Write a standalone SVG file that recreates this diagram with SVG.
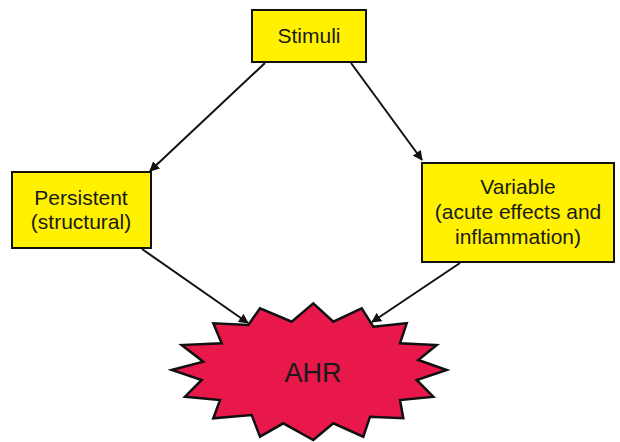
<svg xmlns="http://www.w3.org/2000/svg" width="620" height="442" viewBox="0 0 620 442">
<style>
.box{fill:#FFF100;stroke:#111;stroke-width:2}
.lbl{font-family:"Liberation Sans",Arial,sans-serif;font-size:21px;fill:#1a1a1a;text-anchor:middle}
.conn{stroke:#111;stroke-width:2;fill:none;marker-end:url(#ah)}
</style>
<defs>
<marker id="ah" viewBox="0 0 10 10" refX="9" refY="5" markerWidth="5" markerHeight="5" orient="auto" markerUnits="strokeWidth">
<path d="M0,0 L10,5 L0,10 z" fill="#111"/>
</marker>
</defs>
<rect width="620" height="442" fill="#fff"/>
<g id="connectors">
<line class="conn" x1="265" y1="63" x2="150" y2="171"/>
<line class="conn" x1="351" y1="63" x2="422" y2="160"/>
<line class="conn" x1="142" y1="249" x2="248" y2="323"/>
<line class="conn" x1="460" y1="263" x2="372" y2="322"/>
</g>
<g id="stimuli">
<rect class="box" x="252" y="10" width="114" height="52"/>
<text class="lbl" x="309" y="43">Stimuli</text>
</g>
<g id="persistent">
<rect class="box" x="12" y="172" width="139" height="76"/>
<text class="lbl" x="81" y="205">Persistent</text>
<text class="lbl" x="81" y="229">(structural)</text>
</g>
<g id="variable">
<rect class="box" x="422" y="163" width="192" height="99"/>
<text class="lbl" x="518" y="194">Variable</text>
<text class="lbl" x="518" y="219">(acute effects and</text>
<text class="lbl" x="518" y="244">inflammation)</text>
</g>
<g id="ahr">
<polygon fill="#E8184A" stroke="#111" stroke-width="2.5" stroke-linejoin="miter" points="313.3,303.3 333.3,321.7 361.7,308.3 373.3,326.7 406.7,323.3 400,343.3 436.7,345 418.3,360 446.7,370 416.7,380 433.3,396.7 400,400 403.3,418.3 370,416.7 363.3,436.7 333.3,423.3 313.3,440 283.3,423.3 260,436.7 251.7,415 213.3,418.3 220,400 185,396.7 201.7,380 171.7,370 203.3,361.7 181.7,345 221.7,343.3 213.3,323.3 248.3,325 260,308.3 291.7,321.7"/>
<text class="lbl" x="313" y="382" style="font-size:27px">AHR</text>
</g>
</svg>
